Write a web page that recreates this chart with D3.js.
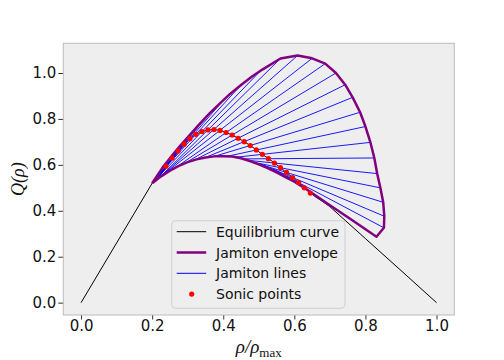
<!DOCTYPE html>
<html>
<head>
<meta charset="utf-8">
<script src="https://cdn.jsdelivr.net/npm/d3@7/dist/d3.min.js"></script>
<style>
  body { margin: 0; background: #fff; }
  svg text { font-family: "DejaVu Sans", sans-serif; }
</style>
</head>
<body>
<div id="chart"></div>
<script>
// equilibrium curve Q(rho)
const eqRho = [0, 0.1, 0.2, 0.22, 0.24, 0.26, 0.28, 0.30, 0.32, 0.34, 0.36, 0.38, 0.40, 0.42, 0.44, 0.46, 0.48, 0.50,
    0.52, 0.54, 0.56, 0.58, 0.60, 0.62, 0.64, 0.66, 0.68, 0.70, 0.80, 0.90, 1.0];
const eqQ = [0, 0.26, 0.52, 0.558, 0.597, 0.638, 0.673, 0.706, 0.730, 0.745, 0.753, 0.753, 0.746, 0.733, 0.718, 0.700, 0.680, 0.657,
    0.635, 0.613, 0.589, 0.564, 0.539, 0.512, 0.484, 0.460, 0.440, 0.418, 0.279, 0.140, 0];

// sonic points
const sonicRho = [0.239, 0.256, 0.273, 0.290, 0.306, 0.323, 0.340, 0.357, 0.374, 0.391, 0.408, 0.425, 0.442,
    0.459, 0.476, 0.493, 0.510, 0.527, 0.544, 0.561, 0.578, 0.595, 0.612, 0.628, 0.645];
const sonicQ = [0.594, 0.630, 0.660, 0.690, 0.714, 0.733, 0.745, 0.752, 0.754, 0.750, 0.741, 0.730, 0.716,
    0.701, 0.684, 0.665, 0.646, 0.627, 0.608, 0.588, 0.567, 0.545, 0.523, 0.500, 0.477];

// jamiton lines: low density end (rho-) and high density end (rho+)
const rhoMinus = [0.220, 0.214, 0.211, 0.203, 0.201, 0.201, 0.200, 0.220, 0.223, 0.226, 0.265, 0.290,
    0.320, 0.351, 0.377, 0.410, 0.435, 0.456, 0.468, 0.483, 0.490, 0.500, 0.540, 0.580];
const qMinus = [0.544, 0.537, 0.533, 0.524, 0.527, 0.527, 0.520, 0.544, 0.548, 0.551, 0.587, 0.605,
    0.622, 0.633, 0.638, 0.637, 0.633, 0.626, 0.620, 0.612, 0.609, 0.607, 0.582, 0.550];
const rhoPlus = [0.258, 0.283, 0.315, 0.355, 0.400, 0.450, 0.505, 0.561, 0.609, 0.650, 0.687, 0.717,
    0.743, 0.764, 0.785, 0.800, 0.814, 0.825, 0.833, 0.842, 0.850, 0.852, 0.852, 0.831];
const qPlus = [0.644, 0.690, 0.746, 0.814, 0.881, 0.948, 1.010, 1.063, 1.076, 1.064, 1.041, 1.000,
    0.949, 0.894, 0.829, 0.767, 0.698, 0.630, 0.562, 0.500, 0.437, 0.377, 0.326, 0.287];

// jamiton envelope: lower branch (start -> tip), upper branch (tip -> start)
const envLowRho = [0.2, 0.225, 0.25, 0.275, 0.30, 0.325, 0.35, 0.375, 0.40, 0.425, 0.45, 0.475, 0.50, 0.525,
    0.55, 0.575, 0.60, 0.628, 0.70, 0.76, 0.831];
const envLowQ = [0.52, 0.55, 0.575, 0.596, 0.612, 0.624, 0.632, 0.637, 0.638, 0.636, 0.629, 0.617, 0.602, 0.586,
    0.567, 0.547, 0.527, 0.500, 0.424, 0.362, 0.287];
const envUpRho = [0.831, 0.852, 0.853, 0.850, 0.842, 0.833, 0.825, 0.814, 0.800, 0.785, 0.764, 0.743, 0.717, 0.687,
    0.650, 0.609, 0.561, 0.51, 0.48, 0.45, 0.42, 0.39, 0.36, 0.33, 0.30, 0.28, 0.26, 0.232, 0.215, 0.2];
const envUpQ = [0.287, 0.326, 0.377, 0.437, 0.500, 0.562, 0.630, 0.698, 0.767, 0.829, 0.894, 0.949, 1.000, 1.041,
    1.064, 1.076, 1.063, 1.015, 0.984, 0.948, 0.910, 0.867, 0.822, 0.772, 0.720, 0.685, 0.648, 0.594, 0.555, 0.52];

const xTicks = [0.0, 0.2, 0.4, 0.6, 0.8, 1.0];
const yTicks = [0.0, 0.2, 0.4, 0.6, 0.8, 1.0];
const legendLabels = ["Equilibrium curve", "Jamiton envelope", "Jamiton lines", "Sonic points"];

const W = 504, H = 360;
const margin = { top: 43.3, right: 49.7, bottom: 45, left: 63.3 };
const width = W - margin.left - margin.right;
const height = H - margin.top - margin.bottom;

const svg = d3.select("#chart").append("svg")
    .attr("width", W)
    .attr("height", H);

const g = svg.append("g")
    .attr("transform", `translate(${margin.left},${margin.top})`);

const x = d3.scaleLinear().domain([-0.05, 1.05]).range([0, width]);
const y = d3.scaleLinear().domain([-0.0538, 1.1294]).range([height, 0]);

g.append("rect")
    .attr("width", width)
    .attr("height", height)
    .attr("fill", "#eeeeee");

g.append("clipPath").attr("id", "clip")
    .append("rect").attr("width", width).attr("height", height);

const plot = g.append("g").attr("clip-path", "url(#clip)");

const line = d3.line().x(d => x(d[0])).y(d => y(d[1]));

// equilibrium
plot.append("path")
    .datum(eqRho.map((r, i) => [r, eqQ[i]]))
    .attr("fill", "none")
    .attr("stroke", "black")
    .attr("stroke-width", 1)
    .attr("d", line);

// jamiton lines
plot.selectAll(".jam")
    .data(rhoMinus.map((r, i) => [[r, qMinus[i]], [rhoPlus[i], qPlus[i]]]))
    .enter().append("path")
    .attr("class", "jam")
    .attr("fill", "none")
    .attr("stroke", "blue")
    .attr("stroke-width", 0.9)
    .attr("d", line);

// envelope
const env = envLowRho.map((r, i) => [r, envLowQ[i]])
    .concat(envUpRho.map((r, i) => [r, envUpQ[i]]));
plot.append("path")
    .datum(env)
    .attr("fill", "none")
    .attr("stroke", "purple")
    .attr("stroke-width", 2.5)
    .attr("stroke-linejoin", "round")
    .attr("d", line);

// sonic points
plot.selectAll(".sonic")
    .data(sonicRho.map((r, i) => [r, sonicQ[i]]))
    .enter().append("circle")
    .attr("class", "sonic")
    .attr("cx", d => x(d[0]))
    .attr("cy", d => y(d[1]))
    .attr("r", 2.6)
    .attr("fill", "red");

// axes
const xAxis = g.append("g")
    .attr("transform", `translate(0,${height})`)
    .call(d3.axisBottom(x).tickValues(xTicks).tickFormat(d3.format(".1f")).tickSize(4.5).tickPadding(0.5));
const yAxis = g.append("g")
    .call(d3.axisLeft(y).tickValues(yTicks).tickFormat(d3.format(".1f")).tickSize(5).tickPadding(2));

[xAxis, yAxis].forEach(a => {
    a.select(".domain").remove();
    a.selectAll("line").attr("stroke", "#333");
    a.selectAll("text")
        .style("font-family", "DejaVu Sans")
        .style("font-size", "15px")
        .attr("fill", "#111");
});

g.append("rect")
    .attr("width", width)
    .attr("height", height)
    .attr("fill", "none")
    .attr("stroke", "#bcbcbc")
    .attr("stroke-width", 1);

// axis labels
const xl = svg.append("text")
    .attr("x", margin.left + width / 2)
    .attr("y", 353)
    .attr("text-anchor", "middle")
    .style("font-family", "Liberation Serif, serif")
    .style("font-size", "19px")
    .attr("fill", "#111");
xl.append("tspan").style("font-style", "italic").text("ρ/ρ");
xl.append("tspan").attr("dy", 4).style("font-size", "13px").text("max");

svg.append("text")
    .attr("transform", `translate(24,${margin.top + height / 2}) rotate(-90)`)
    .attr("text-anchor", "middle")
    .style("font-family", "Liberation Serif, serif")
    .style("font-style", "italic")
    .style("font-size", "18px")
    .attr("fill", "#111")
    .text("Q(ρ)");

// legend
const lg = svg.append("g").attr("transform", "translate(171.7,220.7)");
lg.append("rect")
    .attr("width", 173.3)
    .attr("height", 87.6)
    .attr("rx", 4)
    .attr("fill", "#eeeeee")
    .attr("fill-opacity", 0.8)
    .attr("stroke", "#d0d0d0");

const rowY = i => 11 + i * 20.8;
lg.append("line").attr("x1", 5).attr("x2", 34.5).attr("y1", rowY(0)).attr("y2", rowY(0))
    .attr("stroke", "black").attr("stroke-width", 1);
lg.append("line").attr("x1", 5).attr("x2", 34.5).attr("y1", rowY(1)).attr("y2", rowY(1))
    .attr("stroke", "purple").attr("stroke-width", 2.5);
lg.append("line").attr("x1", 5).attr("x2", 34.5).attr("y1", rowY(2)).attr("y2", rowY(2))
    .attr("stroke", "blue").attr("stroke-width", 1);
lg.append("circle").attr("cx", 20).attr("cy", rowY(3)).attr("r", 2.6).attr("fill", "red");

lg.selectAll(".lt")
    .data(legendLabels)
    .enter().append("text")
    .attr("class", "lt")
    .attr("x", 44.3)
    .attr("y", (d, i) => rowY(i))
    .attr("dy", "0.36em")
    .style("font-size", "14px")
    .attr("fill", "#111")
    .text(d => d);
</script>
</body>
</html>
